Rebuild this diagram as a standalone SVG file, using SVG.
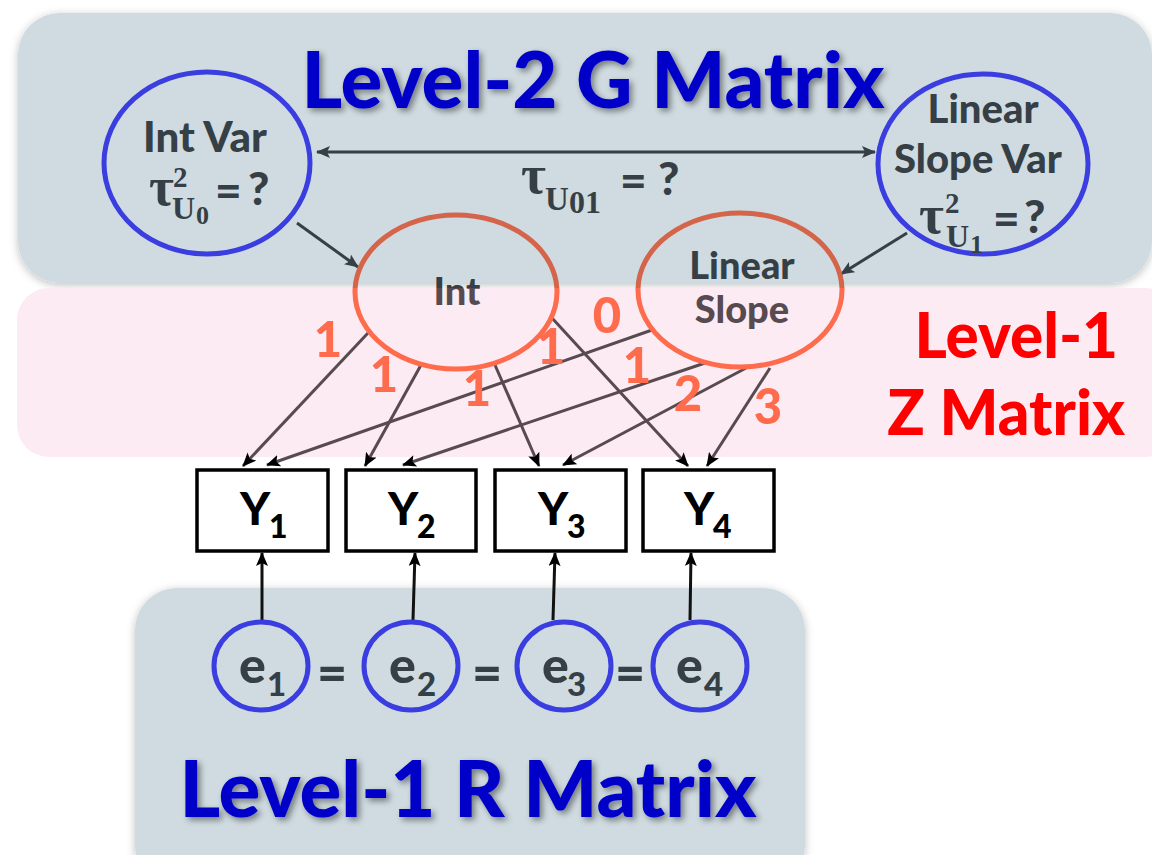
<svg xmlns="http://www.w3.org/2000/svg" width="1152" height="855" viewBox="0 0 1152 855">
<defs>
<filter id="panelShadow" x="-5%" y="-10%" width="110%" height="120%">
<feDropShadow dx="0" dy="2" stdDeviation="4" flood-color="#000" flood-opacity="0.25"/>
</filter>
<filter id="titleShadow" x="-5%" y="-20%" width="110%" height="140%">
<feDropShadow dx="3" dy="3" stdDeviation="3" flood-color="#000" flood-opacity="0.45"/>
</filter>
<marker id="ah" viewBox="0 0 14 12" refX="13" refY="6" markerWidth="14" markerHeight="12" markerUnits="userSpaceOnUse" orient="auto-start-reverse">
<path d="M0,0 L14,6 L0,12 L3,6 z" fill="#000"/>
</marker>
<marker id="ahd" viewBox="0 0 14 12" refX="13" refY="6" markerWidth="14" markerHeight="12" markerUnits="userSpaceOnUse" orient="auto-start-reverse">
<path d="M0,0 L14,6 L0,12 L3,6 z" fill="#353f45"/>
</marker>
<clipPath id="upper"><rect x="0" y="0" width="1152" height="288"/></clipPath>
<clipPath id="lower"><rect x="0" y="288" width="1152" height="567"/></clipPath>
<style>
.t{font-family:Lato,"Open Sans","Noto Sans",sans-serif;font-weight:900;}
.s{font-family:"Liberation Serif","DejaVu Serif",serif;font-weight:bold;}
.dk{fill:#353f45;}
.blueE{fill:none;stroke:#3a3ddf;stroke-width:5;}
.orE{fill:none;stroke:#ff6b4d;stroke-width:5;}
.orEu{fill:none;stroke:#d4644a;stroke-width:5;}
.num{fill:#ff6b4d;font-size:49px;}
.c{fill:none;stroke:#574a51;stroke-width:3;marker-end:url(#ah);}
.cd{fill:none;stroke:#353f45;stroke-width:3;}
.cb{fill:none;stroke:#111;stroke-width:3;marker-end:url(#ah);}
.box{fill:#fff;stroke:#000;stroke-width:3.5;}
</style>
</defs>

<!-- panels -->
<g id="panel-g">
<rect x="18" y="13" width="1134" height="270" rx="42" fill="#cfdbe0" filter="url(#panelShadow)"/>
<text class="t" x="593" y="108" font-size="78" fill="#0000c8" text-anchor="middle" filter="url(#titleShadow)">Level-2 G Matrix</text>
</g>
<g id="panel-z">
<rect x="17" y="288" width="1160" height="169" rx="32" fill="#fcebf2"/>
<text class="t" x="1118" y="358" font-size="62" fill="#ff0000" text-anchor="end">Level-1</text>
<text class="t" x="1125" y="435" font-size="62" fill="#ff0000" text-anchor="end">Z Matrix</text>
</g>
<g id="panel-r">
<rect x="135" y="588" width="670" height="300" rx="42" fill="#cfdbe0" filter="url(#panelShadow)"/>
<text class="t" x="468" y="817" font-size="78" fill="#0000c8" text-anchor="middle" filter="url(#titleShadow)">Level-1 R Matrix</text>
</g>

<!-- connectors -->
<g id="connectors">
<line class="cd" x1="297" y1="223" x2="358" y2="267" marker-end="url(#ahd)"/>
<line class="cd" x1="907" y1="233" x2="841" y2="274" marker-end="url(#ahd)"/>
<line class="cd" x1="317" y1="152" x2="875" y2="152" marker-start="url(#ahd)" marker-end="url(#ahd)"/>
<line class="c" x1="368" y1="333" x2="243" y2="466"/>
<line class="c" x1="421" y1="365" x2="365" y2="466"/>
<line class="c" x1="495" y1="365" x2="539" y2="466"/>
<line class="c" x1="552" y1="318" x2="688" y2="466"/>
<line class="c" x1="652" y1="330" x2="267" y2="465"/>
<line class="c" x1="705" y1="363" x2="403" y2="465"/>
<line class="c" x1="748" y1="367" x2="563" y2="465"/>
<line class="c" x1="770" y1="368" x2="707" y2="466"/>
<line class="cb" x1="262" y1="620" x2="262" y2="553"/>
<line class="cb" x1="413" y1="620" x2="415" y2="553"/>
<line class="cb" x1="553" y1="620" x2="555" y2="553"/>
<line class="cb" x1="690" y1="620" x2="691" y2="553"/>
<text class="t num" x="328" y="357" text-anchor="middle">1</text>
<text class="t num" x="384" y="392" text-anchor="middle">1</text>
<text class="t num" x="477" y="406" text-anchor="middle">1</text>
<text class="t num" x="551" y="364" text-anchor="middle">1</text>
<text class="t num" x="607" y="333" text-anchor="middle">0</text>
<text class="t num" x="637" y="383" text-anchor="middle">1</text>
<text class="t num" x="688" y="411" text-anchor="middle">2</text>
<text class="t num" x="768" y="424" text-anchor="middle">3</text>
<text class="s dk" x="521" y="193" font-size="54">τ</text>
<text class="s dk" x="545" y="210" font-size="33">U</text>
<text class="s dk" x="569" y="213" font-size="32">01</text>
<text class="t dk" x="620" y="197" font-size="46">=</text>
<text class="t dk" x="658" y="195" font-size="46">?</text>
</g>

<!-- nodes -->
<g id="int-var">
<ellipse class="blueE" cx="207" cy="163" rx="103" ry="91"/>
<text class="t dk" x="205" y="152" font-size="42" text-anchor="middle">Int Var</text>
<text class="s dk" x="149" y="205" font-size="54">τ</text>
<text class="s dk" x="173" y="187" font-size="29">2</text>
<text class="s dk" x="172" y="219" font-size="32">U</text>
<text class="s dk" x="196" y="224" font-size="26">0</text>
<text class="t dk" x="215" y="207" font-size="46">=</text>
<text class="t dk" x="248" y="205" font-size="46">?</text>
</g>
<g id="slope-var">
<ellipse class="blueE" cx="983" cy="164" rx="105" ry="90"/>
<text class="t dk" x="983" y="123" font-size="40" text-anchor="middle">Linear</text>
<text class="t dk" x="978" y="173" font-size="40" text-anchor="middle">Slope Var</text>
<text class="s dk" x="919" y="233" font-size="54">τ</text>
<text class="s dk" x="945" y="213" font-size="29">2</text>
<text class="s dk" x="946" y="247" font-size="32">U</text>
<text class="s dk" x="970" y="253" font-size="26">1</text>
<text class="t dk" x="993" y="235" font-size="46">=</text>
<text class="t dk" x="1024" y="233" font-size="46">?</text>
</g>
<g id="int">
<ellipse class="orE" cx="456" cy="292" rx="101" ry="77" clip-path="url(#lower)"/>
<ellipse class="orEu" cx="456" cy="292" rx="101" ry="77" clip-path="url(#upper)"/>
<text class="t" x="457" y="305" font-size="38" text-anchor="middle" fill="#574a51" clip-path="url(#lower)">Int</text>
<text class="t dk" x="457" y="305" font-size="38" text-anchor="middle" clip-path="url(#upper)">Int</text>
</g>
<g id="slope">
<ellipse class="orE" cx="740" cy="290" rx="102" ry="77" clip-path="url(#lower)"/>
<ellipse class="orEu" cx="740" cy="290" rx="102" ry="77" clip-path="url(#upper)"/>
<text class="t dk" x="742" y="279" font-size="38" text-anchor="middle">Linear</text>
<text class="t" x="742" y="323" font-size="38" text-anchor="middle" fill="#574a51">Slope</text>
</g>
<g id="y1"><rect class="box" x="197" y="470" width="131" height="81"/><text class="t" x="240" y="525" font-size="46">Y</text><text class="t" x="269" y="538" font-size="32">1</text></g>
<g id="y2"><rect class="box" x="346" y="470" width="130" height="81"/><text class="t" x="388" y="525" font-size="46">Y</text><text class="t" x="417" y="538" font-size="32">2</text></g>
<g id="y3"><rect class="box" x="495" y="470" width="131" height="81"/><text class="t" x="538" y="525" font-size="46">Y</text><text class="t" x="567" y="538" font-size="32">3</text></g>
<g id="y4"><rect class="box" x="643" y="470" width="131" height="81"/><text class="t" x="684" y="525" font-size="46">Y</text><text class="t" x="713" y="538" font-size="32">4</text></g>
<g id="e1"><ellipse class="blueE" cx="261" cy="666" rx="47" ry="44"/><text class="t dk" x="239" y="683" font-size="50">e</text><text class="t dk" x="267" y="696" font-size="33">1</text></g>
<g id="e2"><ellipse class="blueE" cx="411" cy="666" rx="47" ry="44"/><text class="t dk" x="389" y="683" font-size="50">e</text><text class="t dk" x="417" y="696" font-size="33">2</text></g>
<g id="e3"><ellipse class="blueE" cx="564" cy="666" rx="47" ry="44"/><text class="t dk" x="542" y="683" font-size="50">e</text><text class="t dk" x="567" y="696" font-size="33">3</text></g>
<g id="e4"><ellipse class="blueE" cx="700" cy="666" rx="47" ry="44"/><text class="t dk" x="676" y="683" font-size="50">e</text><text class="t dk" x="704" y="696" font-size="33">4</text></g>
<g id="equals">
<text class="t dk" x="332" y="691" font-size="52" text-anchor="middle">=</text>
<text class="t dk" x="487" y="691" font-size="52" text-anchor="middle">=</text>
<text class="t dk" x="630" y="691" font-size="52" text-anchor="middle">=</text>
</g>
</svg>
